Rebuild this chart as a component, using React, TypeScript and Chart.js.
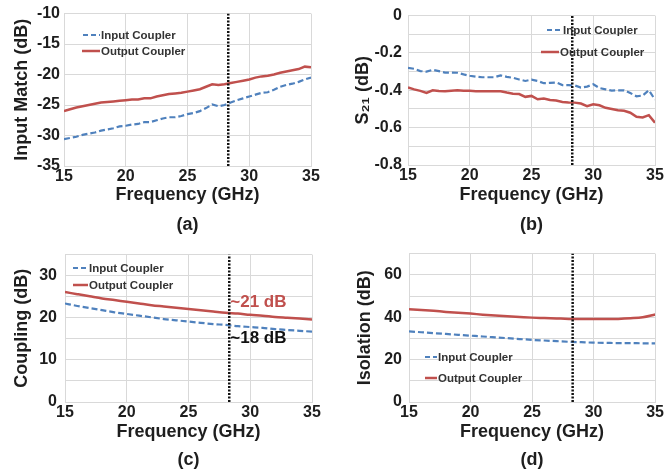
import React, { useEffect, useRef } from 'react';
import { Chart, registerables } from 'chart.js';

Chart.register(...registerables);
Chart.defaults.font.family = '"Liberation Sans", Arial, sans-serif';

// ---------- data ----------
const freqFine = [
  15, 15.5, 16, 16.5, 17, 17.5, 18, 18.5, 19, 19.5, 20, 20.5, 21, 21.5, 22, 22.5, 23, 23.5, 24, 24.5,
  25, 25.5, 26, 26.5, 27, 27.5, 28, 28.5, 29, 29.5, 30, 30.5, 31, 31.5, 32, 32.5, 33, 33.5, 34, 34.5, 35,
];
const freqCoarse = [15, 16, 17, 18, 19, 20, 21, 22, 23, 24, 25, 26, 27, 28, 29, 30, 31, 32, 33, 34, 35];

const matchInput = [
  -30.6, -30.4, -30.2, -29.9, -29.7, -29.5, -29.2, -29.0, -28.8, -28.5, -28.4, -28.2, -28.1, -27.8, -27.8, -27.5,
  -27.2, -27.0, -27.0, -26.8, -26.5, -26.3, -26.0, -25.5, -24.9, -25.2, -25.0, -24.6, -24.2, -23.9, -23.6, -23.3,
  -23.0, -22.9, -22.5, -22.0, -21.7, -21.5, -21.2, -20.8, -20.5,
];
const matchOutput = [
  -26.0, -25.7, -25.4, -25.2, -25.0, -24.8, -24.6, -24.5, -24.4, -24.3, -24.2, -24.1, -24.1, -23.9, -23.9, -23.6,
  -23.4, -23.2, -23.1, -23.0, -22.8, -22.6, -22.4, -22.0, -21.6, -21.7, -21.6, -21.4, -21.2, -21.0, -20.8, -20.5,
  -20.3, -20.2, -20.0, -19.7, -19.5, -19.3, -19.1, -18.7, -18.8,
];
const s21Input = [
  -0.28, -0.285, -0.297, -0.3, -0.29, -0.297, -0.305, -0.305, -0.306, -0.315, -0.322, -0.327, -0.33, -0.33, -0.33,
  -0.32, -0.328, -0.333, -0.342, -0.35, -0.343, -0.35, -0.362, -0.36, -0.358, -0.372, -0.372, -0.374, -0.385, -0.38,
  -0.368, -0.388, -0.395, -0.402, -0.4, -0.4, -0.415, -0.432, -0.428, -0.4, -0.45,
];
const s21Output = [
  -0.385, -0.395, -0.403, -0.414, -0.4, -0.404, -0.405, -0.402, -0.4, -0.403, -0.403, -0.405, -0.405, -0.405, -0.405,
  -0.405, -0.412, -0.418, -0.42, -0.435, -0.43, -0.448, -0.444, -0.452, -0.455, -0.463, -0.465, -0.466, -0.471, -0.485,
  -0.475, -0.48, -0.494, -0.5, -0.507, -0.51, -0.52, -0.542, -0.545, -0.533, -0.574,
];
const couplingInput = [
  23.4, 22.8, 22.3, 21.8, 21.3, 20.9, 20.5, 20.1, 19.7, 19.4, 19.1, 18.8, 18.5, 18.3, 18.0, 17.8, 17.6, 17.3, 17.1, 16.9, 16.7,
];
const couplingOutput = [
  26.1, 25.6, 25.1, 24.6, 24.2, 23.8, 23.4, 23.0, 22.7, 22.4, 22.1, 21.8, 21.5, 21.2, 21.0, 20.7, 20.5, 20.2, 20.0, 19.8, 19.6,
];
const isolationInput = [
  33.3, 32.9, 32.5, 32.1, 31.7, 31.3, 30.9, 30.5, 30.1, 29.7, 29.3, 29.0, 28.7, 28.4, 28.2, 28.0, 27.9, 27.8, 27.8, 27.7, 27.7,
];
const isolationOutput = [
  43.8, 43.4, 43.0, 42.5, 42.1, 41.7, 41.2, 40.8, 40.4, 40.1, 39.8, 39.6, 39.4, 39.2, 39.1, 39.1, 39.1, 39.2, 39.5, 40.0, 41.3,
];

const markerFreq = 28.3;
const seriesLabels = ['Input Coupler', 'Output Coupler'];
const panelLabels = ['(a)', '(b)', '(c)', '(d)'];
const yTitles = ['Input Match (dB)', 'S\u2082\u2081 (dB)', 'Coupling (dB)', 'Isolation (dB)'];
const xTitle = 'Frequency (GHz)';
const couplingNotes = ['~21 dB', '~18 dB'];
const couplingNoteValues = [23.6, 15.1];

// ---------- styling / layout ----------
const BLUE = '#4F81BD';
const RED = '#C0504D';
const GRID = '#d9d9d9';
const TEXT = '#1e1e1e';
const FONT = '"Liberation Sans", Arial, sans-serif';

type LegendItem = { x: number; y: number; len: number; tx: number };
type PanelCfg = {
  left: number; top: number; w: number; h: number;
  plotLeft: number; plotRight: number; plotTop: number; plotBottom: number;
  lh: number; freq: number[]; input: number[]; output: number[];
  yMin: number; yMax: number; yStep: number; yLabel: (v: number) => string;
  tickPad: number; titlePad: number; idx: number; smooth: boolean;
  legend: LegendItem[]; notes?: boolean;
};

const fmt = (v: number) => String(Math.round(v * 10) / 10);

const panels: PanelCfg[] = [
  {
    left: 0, top: 0, w: 332, h: 240, plotLeft: 64, plotRight: 311, plotTop: 13, plotBottom: 166, lh: 30,
    freq: freqFine, input: matchInput, output: matchOutput, yMin: -35, yMax: -10, yStep: 5,
    yLabel: (v) => fmt(v), tickPad: 4, titlePad: 11, idx: 0, smooth: false,
    legend: [{ x: 83, y: 35, len: 17, tx: 101 }, { x: 82, y: 51, len: 18, tx: 101 }],
  },
  {
    left: 332, top: 0, w: 333, h: 240, plotLeft: 76, plotRight: 323, plotTop: 15, plotBottom: 165, lh: 30,
    freq: freqFine, input: s21Input, output: s21Output, yMin: -0.8, yMax: 0, yStep: 0.1,
    yLabel: (v) => { const k = Math.round(v * 10); return k % 2 === 0 ? (k === 0 ? '0' : (k / 10).toFixed(1)) : ''; },
    tickPad: 6, titlePad: 20, idx: 1, smooth: false,
    legend: [{ x: 215, y: 30, len: 15, tx: 231 }, { x: 209, y: 52, len: 18, tx: 228 }],
  },
  {
    left: 0, top: 237, w: 332, h: 237, plotLeft: 65, plotRight: 312, plotTop: 13.5, plotBottom: 165, lh: 28,
    freq: freqCoarse, input: couplingInput, output: couplingOutput, yMin: 0, yMax: 35, yStep: 5,
    yLabel: (v) => (Math.round(v) % 10 === 0 ? fmt(v) : ''), tickPad: 8, titlePad: 11, idx: 2, smooth: true,
    legend: [{ x: 73, y: 31, len: 15, tx: 89 }, { x: 73, y: 48, len: 15, tx: 89 }], notes: true,
  },
  {
    left: 332, top: 237, w: 333, h: 237, plotLeft: 77, plotRight: 324, plotTop: 14.5, plotBottom: 165, lh: 28,
    freq: freqCoarse, input: isolationInput, output: isolationOutput, yMin: 0, yMax: 70, yStep: 10,
    yLabel: (v) => (Math.round(v) % 20 === 0 ? fmt(v) : ''), tickPad: 7, titlePad: 22, idx: 3, smooth: true,
    legend: [{ x: 93, y: 120, len: 12, tx: 106 }, { x: 93, y: 141, len: 12, tx: 106 }],
  },
];

function Panel({ cfg }: { cfg: PanelCfg }) {
  const ref = useRef<HTMLCanvasElement>(null);
  useEffect(() => {
    const canvas = ref.current!;
    const toPts = (vals: number[]) => cfg.freq.map((f, i) => ({ x: f, y: vals[i] }));
    const decor = {
      id: 'decor' + cfg.idx,
      afterDraw(chart: any) {
        const ctx = chart.ctx as CanvasRenderingContext2D;
        ctx.save();
        ctx.font = `bold 11.5px ${FONT}`;
        ctx.textBaseline = 'middle';
        ctx.textAlign = 'left';
        cfg.legend.forEach((item, i) => {
          const ds = chart.data.datasets[i + 1];
          ctx.strokeStyle = ds.borderColor;
          ctx.lineWidth = ds.borderWidth;
          ctx.setLineDash(i === 0 ? [5, 3] : []);
          ctx.beginPath();
          ctx.moveTo(item.x, item.y);
          ctx.lineTo(item.x + item.len, item.y);
          ctx.stroke();
          ctx.setLineDash([]);
          ctx.fillStyle = '#333';
          ctx.fillText(ds.label, item.tx, item.y + 0.5);
        });
        if (cfg.notes) {
          const xs = chart.scales.x;
          const ys = chart.scales.y;
          ctx.font = `bold 17px ${FONT}`;
          const px = xs.getPixelForValue(markerFreq) + 1;
          couplingNotes.forEach((t, i) => {
            ctx.fillStyle = i === 0 ? RED : '#111';
            ctx.fillText(t, px, ys.getPixelForValue(couplingNoteValues[i]));
          });
        }
        ctx.restore();
      },
    };
    const chart = new Chart(canvas, {
      type: 'line',
      data: {
        datasets: [
          {
            label: 'marker',
            data: [{ x: markerFreq, y: cfg.yMin }, { x: markerFreq, y: cfg.yMax }],
            borderColor: '#111', borderWidth: 2.5, borderDash: [2, 1.5], pointRadius: 0,
          },
          {
            label: seriesLabels[0], data: toPts(cfg.input), borderColor: BLUE, borderWidth: 2.2,
            borderDash: [6, 3], pointRadius: 0, cubicInterpolationMode: cfg.smooth ? 'monotone' : 'default',
          },
          {
            label: seriesLabels[1], data: toPts(cfg.output), borderColor: RED, borderWidth: 2.5,
            pointRadius: 0, cubicInterpolationMode: cfg.smooth ? 'monotone' : 'default',
          },
        ] as any,
      },
      options: {
        animation: false,
        responsive: false,
        maintainAspectRatio: false,
        devicePixelRatio: 1,
        layout: { padding: { left: 0, top: cfg.plotTop, right: cfg.w - cfg.plotRight, bottom: 0 } },
        plugins: { legend: { display: false }, tooltip: { enabled: false }, title: { display: false } },
        scales: {
          x: {
            type: 'linear', min: 15, max: 35,
            ticks: { stepSize: 5, padding: 1, color: TEXT, font: { size: 16, weight: 'bold' }, maxRotation: 0, autoSkip: false, callback: (v: any) => fmt(Number(v)) },
            grid: { color: GRID, drawTicks: false },
            border: { color: GRID },
            title: {
              display: true, text: [xTitle, panelLabels[cfg.idx]], color: TEXT, padding: 0,
              font: { size: 18, weight: 'bold', lineHeight: `${cfg.lh}px` },
            },
            afterFit: (s: any) => { s.height = cfg.h - cfg.plotBottom; },
          },
          y: {
            type: 'linear', min: cfg.yMin, max: cfg.yMax,
            ticks: { stepSize: cfg.yStep, padding: cfg.tickPad, color: TEXT, font: { size: 16, weight: 'bold' }, autoSkip: false, callback: (v: any) => cfg.yLabel(Number(v)) },
            grid: { color: GRID, drawTicks: false },
            border: { color: GRID },
            title: {
              display: true, text: yTitles[cfg.idx], color: TEXT,
              padding: { top: cfg.titlePad, bottom: 0 },
              font: { size: 18, weight: 'bold' },
            },
            afterFit: (s: any) => { s.width = cfg.plotLeft; },
          },
        },
      } as any,
      plugins: [decor],
    });
    return () => chart.destroy();
  }, []);
  return (
    <canvas
      ref={ref}
      width={cfg.w}
      height={cfg.h}
      style={{ position: 'absolute', left: cfg.left, top: cfg.top, width: cfg.w, height: cfg.h, display: 'block' }}
    />
  );
}

export default function App() {
  return (
    <div style={{ position: 'absolute', left: 0, top: 0, width: 665, height: 474, background: '#fff', overflow: 'hidden' }}>
      {panels.map((p) => (
        <Panel key={p.idx} cfg={p} />
      ))}
    </div>
  );
}
